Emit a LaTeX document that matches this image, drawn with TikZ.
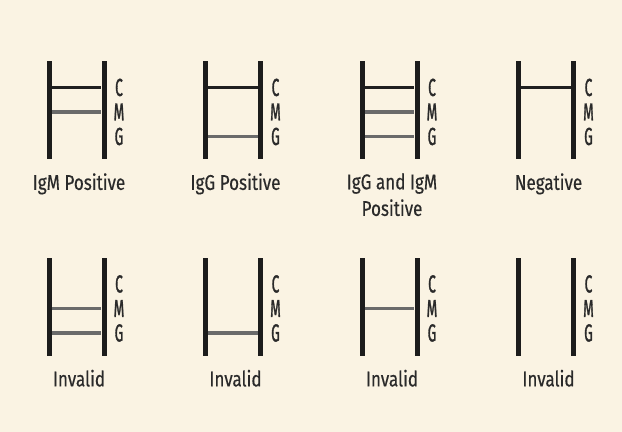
\documentclass[tikz,border=0pt]{standalone}
\usepackage{fontspec}
\setmainfont{Fira Sans}[FakeStretch=0.8,FakeBold=0.4]
\newfontfamily\cmgfont{Fira Sans}[FakeStretch=0.55,FakeBold=1.2]
\usepackage{tikz}
\definecolor{paper}{HTML}{FAF3E3}
\definecolor{bardark}{HTML}{1C1C1C}
\definecolor{rungdark}{HTML}{202020}
\definecolor{runggray}{HTML}{6A6A6A}
\definecolor{ink}{HTML}{2A2A2A}

\begin{document}
\begin{tikzpicture}[x=0.75pt,y=-0.75pt]
 	\def \rowoneht{110}
 	\def \rowtwoht{306.5}
 	\tikzstyle{bar}=[fill=bardark,inner sep=0pt,minimum width=3.75pt,minimum height=73.5pt]
 	\tikzstyle{letter}=[font=\cmgfont\fontsize{18.5}{18.5}\selectfont,text=ink,inner sep=0pt]
 	\tikzstyle{annot}=[font=\fontsize{16}{20}\selectfont,text=ink,align=center,anchor=north,inner sep=0pt]
 	\tikzstyle{c-line}=[draw=rungdark,line width=1.9pt]
 	\tikzstyle{t-line}=[draw=runggray,line width=2.3pt]

 	\fill[paper] (0,0) rectangle (622,432);
 	\useasboundingbox (0,0) rectangle (622,432);

 	% ladders: two bars and the C M G marks
 	\foreach \i/\x/\y in {1/49/\rowoneht,2/205.5/\rowoneht,3/362/\rowoneht,4/518.5/\rowoneht,
 		5/49/\rowtwoht,6/205.5/\rowtwoht,7/362/\rowtwoht,8/518.5/\rowtwoht}{
 		\node[bar] 	(l\i)	at (\x,\y)		{};
 		\node[bar] 	(r\i)	at (\x+55,\y)		{};
 		\node[letter] 	(c\i)	at (\x+70,\y-22.5)	{C};
 		\node[letter] 	(m\i)	at (\x+70,\y+2)		{M};
 		\node[letter] 	(g\i)	at (\x+70,\y+26.5)	{G};
 	}

 	% labels
 	\node[annot] 	(lab1)	at (79,\rowoneht+63)		{IgM Positive};
 	\node[annot] 	(lab2)	at (235.5,\rowoneht+63)	{IgG Positive};
 	\node[annot] 	(lab3)	at (392,\rowoneht+63)		{IgG and IgM\\Positive};
 	\node[annot] 	(lab4)	at (548.5,\rowoneht+63)	{Negative};
 	\node[annot] 	(lab5)	at (79,\rowtwoht+63)		{Invalid};
 	\node[annot] 	(lab6)	at (235.5,\rowtwoht+63)	{Invalid};
 	\node[annot] 	(lab7)	at (392,\rowtwoht+63)		{Invalid};
 	\node[annot] 	(lab8)	at (548.5,\rowtwoht+63)	{Invalid};

 	% control lines
 	\draw[c-line] (l1.east |- c1) -- (r1.west |- c1);
 	\draw[c-line] (l2.east |- c2) -- (r2.west |- c2);
 	\draw[c-line] (l3.east |- c3) -- (r3.west |- c3);
 	\draw[c-line] (l4.east |- c4) -- (r4.west |- c4);

 	% test lines
 	\draw[t-line] (l1.east |- m1) -- (r1.west |- m1);
 	\draw[t-line] (l2.east |- g2) -- (r2.west |- g2);
 	\draw[t-line] (l3.east |- m3) -- (r3.west |- m3);
 	\draw[t-line] (l3.east |- g3) -- (r3.west |- g3);
 	\draw[t-line] (l5.east |- m5) -- (r5.west |- m5);
 	\draw[t-line] (l5.east |- g5) -- (r5.west |- g5);
 	\draw[t-line] (l6.east |- g6) -- (r6.west |- g6);
 	\draw[t-line] (l7.east |- m7) -- (r7.west |- m7);
 %	\draw[t-line] (l8.east |- m8) -- (r8.west |- m8);
\end{tikzpicture}
\end{document}
